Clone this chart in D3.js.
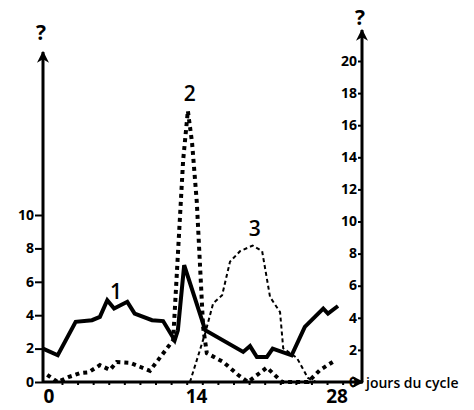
<!DOCTYPE html>
<html>
<head>
<meta charset="utf-8">
<script src="https://cdn.jsdelivr.net/npm/d3@7"></script>
<style>
  body { margin: 0; background: #fff; }
  text { font-family: "Open Sans", sans-serif; fill: #000; }
</style>
</head>
<body>
<div id="my_dataviz"></div>
<script>
// data: day of cycle and value
const days1 = [0, 1.4, 3.1, 4.65, 5.4, 6.1, 6.75, 8.0, 8.7, 10.35, 11.4, 12.5, 12.8, 13.4, 15.4, 19.0, 19.65, 20.3, 21.25, 21.8, 23.6, 24.85, 26.6, 27.05, 28]
const vals1 = [2.0, 1.6, 3.6, 3.7, 3.9, 4.9, 4.4, 4.8, 4.1, 3.7, 3.65, 2.5, 3.1, 7.0, 3.1, 1.8, 2.15, 1.5, 1.5, 2.0, 1.6, 3.3, 4.4, 4.1, 4.55]

const days2 = [0.4, 1.4, 2.4, 3.5, 4.3, 5.4, 6.35, 7.0, 8.25, 9.2, 10.15, 10.9, 12.35, 13.3, 13.75, 14.15, 14.6, 15.2, 15.55, 17.1, 18.5, 19.45, 21.25, 22.7, 24.4, 25.15, 26.3, 27.5]
const vals2 = [0.45, 0, 0.3, 0.55, 0.6, 1.05, 0.75, 1.25, 1.2, 0.95, 0.7, 1.35, 2.6, 13.8, 16.9, 14.9, 11.2, 3.4, 1.8, 1.25, 0.45, 0, 0.9, 0, 0, 0, 0.75, 1.25]

const days3 = [13.95, 15.4, 16.15, 17.0, 17.75, 18.7, 19.9, 20.8, 21.55, 22.5, 22.8, 24.1, 25.15, 25.9]
const vals3 = [0, 3.05, 4.9, 5.4, 7.5, 8.15, 8.5, 8.15, 5.3, 4.35, 2.1, 1.5, 0.25, 0]

const leftTicks = [0, 2, 4, 6, 8, 10]
const rightTicks = [0, 2, 4, 6, 8, 10, 12, 14, 16, 18, 20]
const dayLabels = [0, 14, 28]
const curveLabels = ["1", "2", "3"]

const width = 474, height = 410

const svg = d3.select("#my_dataviz")
    .append("svg")
    .attr("width", width)
    .attr("height", height)

const x = d3.scaleLinear().domain([0, 28]).range([43, 338])
const yLeft = d3.scaleLinear().domain([0, 10]).range([382, 215])
const yRight = d3.scaleLinear().domain([0, 20]).range([382, 61])

// arrow head
svg.append("defs").append("marker")
    .attr("id", "arrow")
    .attr("viewBox", "0 0 10 10")
    .attr("refX", 9).attr("refY", 5)
    .attr("markerWidth", 4).attr("markerHeight", 4)
    .attr("markerUnits", "strokeWidth")
    .attr("orient", "auto")
    .append("path")
    .attr("d", "M0,0 L10,5 L0,10 L3,5 Z")
    .attr("fill", "#000")

// axes lines
const axisLines = [
    [x(0), yLeft(0), x(0), 52],
    [362, yRight(0), 362, 30],
    [x(0), yLeft(0), 363, yLeft(0)]
]
svg.selectAll(".axis-line")
    .data(axisLines)
    .enter()
    .append("line")
    .attr("x1", d => d[0]).attr("y1", d => d[1])
    .attr("x2", d => d[2]).attr("y2", d => d[3])
    .attr("stroke", "#000")
    .attr("stroke-width", 3)
    .attr("marker-end", "url(#arrow)")

// left y axis
const leftAxis = svg.append("g")
    .attr("transform", `translate(${x(0)},0)`)
    .call(d3.axisLeft(yLeft).tickValues(leftTicks).tickSize(8).tickPadding(1))
leftAxis.select(".domain").remove()
leftAxis.selectAll("line").attr("stroke-width", 2)
leftAxis.selectAll("text")
    .style("font-size", "14px").style("font-weight", 700)
    .attr("dy", "0.3em")

// right y axis
const rightAxis = svg.append("g")
    .attr("transform", "translate(362,0)")
    .call(d3.axisLeft(yRight).tickValues(rightTicks).tickSize(4).tickPadding(1))
rightAxis.select(".domain").remove()
rightAxis.selectAll("line").attr("stroke-width", 2)
rightAxis.selectAll("text")
    .style("font-size", "14px").style("font-weight", 700)
    .attr("dy", "0.3em")

// x axis small ticks + day labels
const xAxis = svg.append("g")
    .attr("transform", `translate(0,${yLeft(0)})`)
    .call(d3.axisBottom(x).tickValues(d3.range(1.8, 29, 1.48)).tickSize(3).tickFormat(""))
xAxis.select(".domain").remove()
xAxis.selectAll("line").attr("stroke-width", 2)

svg.selectAll(".day-label")
    .data(dayLabels)
    .enter()
    .append("text")
    .attr("x", d => x(d) + (d === 28 ? -1 : 6))
    .attr("y", 403)
    .attr("text-anchor", "middle")
    .style("font-size", "19px")
    .style("font-weight", 700)
    .text(d => d)

svg.append("text")
    .attr("x", 366).attr("y", 388)
    .style("font-size", "14px")
    .style("font-weight", 600)
    .text("jours du cycle")

// question marks over the axes
svg.append("text").attr("x", 41).attr("y", 40)
    .attr("text-anchor", "middle")
    .style("font-size", "21px").style("font-weight", 700)
    .text("?")
svg.append("text").attr("x", 360).attr("y", 25)
    .attr("text-anchor", "middle")
    .style("font-size", "21px").style("font-weight", 700)
    .text("?")

// curves
const line1 = d3.line().x(d => x(d[0])).y(d => yLeft(d[1]))
const lineR = d3.line().x(d => x(d[0])).y(d => yRight(d[1]))

svg.append("path")
    .datum(d3.zip(days3, vals3))
    .attr("d", lineR)
    .attr("fill", "none")
    .attr("stroke", "#000")
    .attr("stroke-width", 2)
    .attr("stroke-dasharray", "4,3")

svg.append("path")
    .datum(d3.zip(days2, vals2))
    .attr("d", lineR)
    .attr("fill", "none")
    .attr("stroke", "#000")
    .attr("stroke-width", 4)
    .attr("stroke-dasharray", "4,4")

svg.append("path")
    .datum(d3.zip(days1, vals1))
    .attr("d", line1)
    .attr("fill", "none")
    .attr("stroke", "#000")
    .attr("stroke-width", 4)
    .attr("stroke-linejoin", "miter")

// curve numbers, above a chosen point of each curve
const labelPos = [[days1[6], vals1[6], yLeft], [days2[14], vals2[14], yRight], [days3[6], vals3[6], yRight]]
svg.selectAll(".curve-label")
    .data(curveLabels)
    .enter()
    .append("text")
    .attr("x", (d, i) => x(labelPos[i][0]) + 2)
    .attr("y", (d, i) => labelPos[i][2](labelPos[i][1]) - 10)
    .attr("text-anchor", "middle")
    .style("font-size", "21px")
    .style("font-weight", 600)
    .text(d => d)
</script>
</body>
</html>
